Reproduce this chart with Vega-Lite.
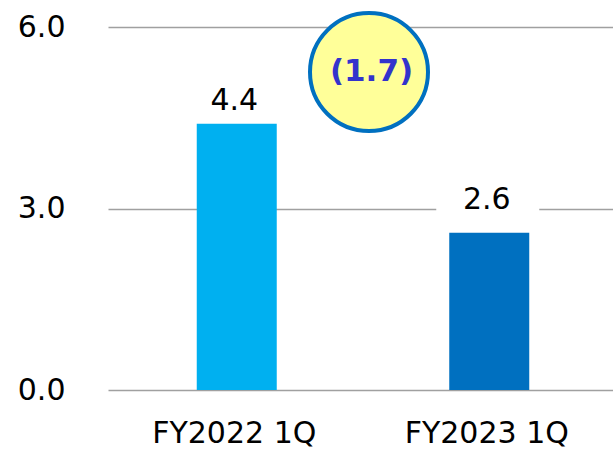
{
  "$schema": "https://vega.github.io/schema/vega-lite/v6.json",
  "width": 505,
  "height": 363,
  "autosize": "none",
  "padding": {"left": 108, "top": 27, "right": 0, "bottom": 59},
  "background": "white",
  "config": {"view": {"stroke": null}, "font": "DejaVu Sans"},
  "data": {"values": [
    {"period": "FY2022 1Q", "value": 4.4},
    {"period": "FY2023 1Q", "value": 2.6}
  ]},
  "encoding": {
    "x": {
      "field": "period", "type": "nominal", "title": null,
      "scale": {"paddingInner": 0, "paddingOuter": 0},
      "axis": {"labelAngle": 0, "labelFontSize": 30, "labelColor": "#000000", "domain": false, "ticks": false, "labelPadding": 28}
    }
  },
  "layer": [
    {
      "mark": {"type": "bar", "size": 80, "xOffset": 2.5},
      "encoding": {
        "y": {
          "field": "value", "type": "quantitative", "title": null,
          "scale": {"domain": [0, 6]},
          "axis": {"values": [0, 3, 6], "format": ".1f", "grid": true, "gridColor": "#A0A0A0", "gridWidth": 1.3, "domain": false, "ticks": false, "labelPadding": 43, "labelFontSize": 30, "labelColor": "#000000"}
        },
        "color": {"field": "period", "type": "nominal", "legend": null, "scale": {"range": ["#00B0F0", "#0070C0"]}}
      }
    },
    {
      "mark": {"type": "point", "shape": "M-1,-0.3H1V0.3H-1Z", "size": 10609, "filled": true, "color": "white", "opacity": 1, "strokeWidth": 0, "yOffset": -34, "xOffset": 1},
      "encoding": {"y": {"field": "value", "type": "quantitative"}}
    },
    {
      "transform": [{"filter": "datum.period == 'FY2022 1Q'"}],
      "mark": {"type": "text", "fontSize": 30, "baseline": "alphabetic", "dy": -14, "color": "#000000"},
      "encoding": {"y": {"field": "value", "type": "quantitative"}, "text": {"field": "value", "type": "quantitative", "format": ".1f"}}
    },
    {
      "transform": [{"filter": "datum.period == 'FY2023 1Q'"}],
      "mark": {"type": "text", "fontSize": 30, "baseline": "alphabetic", "dy": -24, "color": "#000000"},
      "encoding": {"y": {"field": "value", "type": "quantitative"}, "text": {"field": "value", "type": "quantitative", "format": ".1f"}}
    },
    {
      "data": {"values": [{"period": "FY2022 1Q", "diff": "(1.7)", "pos": 5.256}]},
      "mark": {"type": "point", "shape": "circle", "size": 13924, "filled": true, "fill": "#FFFF99", "stroke": "#0070C0", "strokeWidth": 4, "opacity": 1, "xOffset": 8.5},
      "encoding": {
        "x": {"field": "period", "type": "nominal", "bandPosition": 1},
        "y": {"field": "pos", "type": "quantitative"}
      }
    },
    {
      "data": {"values": [{"period": "FY2022 1Q", "diff": "(1.7)", "pos": 5.256}]},
      "mark": {"type": "text", "fontSize": 31, "fontWeight": "bold", "color": "#3333CC", "baseline": "middle", "xOffset": 11},
      "encoding": {
        "x": {"field": "period", "type": "nominal", "bandPosition": 1},
        "y": {"field": "pos", "type": "quantitative"},
        "text": {"field": "diff"}
      }
    }
  ]
}
